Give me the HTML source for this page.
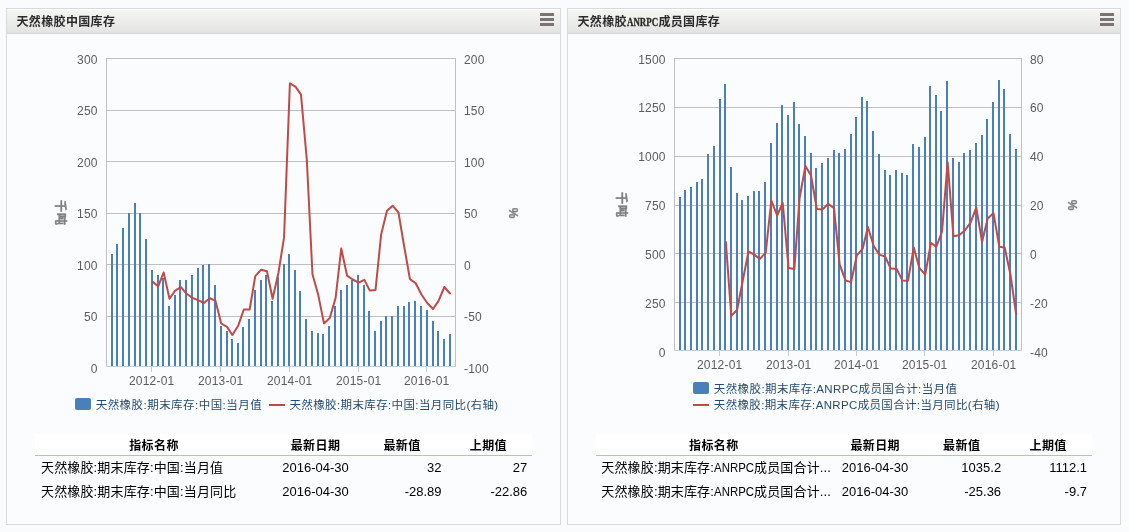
<!DOCTYPE html>
<html lang="zh-CN">
<head>
<meta charset="utf-8">
<title>天然橡胶库存</title>
<style>
html,body{margin:0;padding:0;}
body{width:1129px;height:532px;overflow:hidden;background:#fafbfd;position:relative;font-family:"Liberation Sans","Noto Sans CJK SC",sans-serif;}
.panel{position:absolute;top:8px;height:515px;width:553px;border:1px solid #d8d9da;background:#fbfcfe;}
.hd{position:absolute;left:0;top:0;right:0;height:24px;border-bottom:1px solid #d5d6d5;background:linear-gradient(#f6f6f2,#e3e3e3);box-shadow:inset 0 1px 0 #fff;}
.hd .tt{position:absolute;left:9.5px;top:6px;font-size:12px;line-height:14px;font-weight:bold;color:#2b2b2b;white-space:nowrap;letter-spacing:0.35px;}
.hd .mn{position:absolute;right:6px;top:4px;width:14px;height:13px;background:linear-gradient(#7b7272 0 3px,transparent 3px 5px,#7b7272 5px 8px,transparent 8px 10px,#7b7272 10px 13px);}
.nx{display:inline-block;position:static !important;white-space:nowrap;vertical-align:baseline;letter-spacing:0;}
.nx>span{display:inline-block;position:static !important;transform-origin:0 50%;font-family:"Liberation Serif",serif;-webkit-text-stroke:0.35px #2b2b2b;}
.t .nx>span{font-family:"Liberation Sans",sans-serif;-webkit-text-stroke:0;}
svg{position:absolute;left:0;top:0;overflow:visible;}
svg text{font-family:"Liberation Sans","Noto Sans CJK SC",sans-serif;}
.t{position:absolute;top:425px;height:70px;font-size:13px;color:#000;}
.t span{position:absolute;top:0;white-space:nowrap;box-sizing:border-box;}
.t .h{position:absolute;left:0;top:0;width:100%;height:21px;background:#fff;border-bottom:1px solid #a4c2ea;font-weight:bold;font-size:12px;letter-spacing:0.4px;line-height:17px;text-align:center;}
.t .h span{top:4px}
.t .r{position:absolute;left:0;width:100%;height:24px;line-height:24px;}
.t .r1{top:22px} .t .r2{top:46px}
</style>
</head>
<body>
<div class="panel" style="left:6px">
<div class="hd"><div class="tt">天然橡胶中国库存</div><div class="mn"></div></div>
<svg width="553" height="515" viewBox="7 9 553 515">
<rect x="106" y="58" width="350" height="1" fill="#c0c0c0"/>
<rect x="106" y="110" width="350" height="1" fill="#c0c0c0"/>
<rect x="106" y="161" width="350" height="1" fill="#c0c0c0"/>
<rect x="106" y="213" width="350" height="1" fill="#c0c0c0"/>
<rect x="106" y="264" width="350" height="1" fill="#c0c0c0"/>
<rect x="106" y="316" width="350" height="1" fill="#c0c0c0"/>
<rect x="111" y="254" width="2" height="112" fill="#4b7fbc"/>
<rect x="116" y="244" width="2" height="122" fill="#4b7fbc"/>
<rect x="122" y="228" width="2" height="138" fill="#4b7fbc"/>
<rect x="128" y="213" width="2" height="153" fill="#4b7fbc"/>
<rect x="134" y="203" width="2" height="163" fill="#4b7fbc"/>
<rect x="139" y="213" width="2" height="153" fill="#4b7fbc"/>
<rect x="145" y="239" width="2" height="127" fill="#4b7fbc"/>
<rect x="151" y="270" width="2" height="96" fill="#4b7fbc"/>
<rect x="157" y="275" width="2" height="91" fill="#4b7fbc"/>
<rect x="162" y="278" width="2" height="88" fill="#4b7fbc"/>
<rect x="168" y="306" width="2" height="60" fill="#4b7fbc"/>
<rect x="174" y="295" width="2" height="71" fill="#4b7fbc"/>
<rect x="179" y="280" width="2" height="86" fill="#4b7fbc"/>
<rect x="185" y="280" width="2" height="86" fill="#4b7fbc"/>
<rect x="191" y="275" width="2" height="91" fill="#4b7fbc"/>
<rect x="197" y="268" width="2" height="98" fill="#4b7fbc"/>
<rect x="202" y="265" width="2" height="101" fill="#4b7fbc"/>
<rect x="208" y="264" width="2" height="102" fill="#4b7fbc"/>
<rect x="214" y="285" width="2" height="81" fill="#4b7fbc"/>
<rect x="220" y="326" width="2" height="40" fill="#4b7fbc"/>
<rect x="226" y="331" width="2" height="35" fill="#4b7fbc"/>
<rect x="231" y="339" width="2" height="27" fill="#4b7fbc"/>
<rect x="237" y="343" width="2" height="23" fill="#4b7fbc"/>
<rect x="242" y="327" width="2" height="39" fill="#4b7fbc"/>
<rect x="248" y="319" width="2" height="47" fill="#4b7fbc"/>
<rect x="254" y="290" width="2" height="76" fill="#4b7fbc"/>
<rect x="260" y="280" width="2" height="86" fill="#4b7fbc"/>
<rect x="265" y="275" width="2" height="91" fill="#4b7fbc"/>
<rect x="271" y="301" width="2" height="65" fill="#4b7fbc"/>
<rect x="277" y="277" width="2" height="89" fill="#4b7fbc"/>
<rect x="283" y="264" width="2" height="102" fill="#4b7fbc"/>
<rect x="288" y="254" width="2" height="112" fill="#4b7fbc"/>
<rect x="294" y="270" width="2" height="96" fill="#4b7fbc"/>
<rect x="299" y="291" width="2" height="75" fill="#4b7fbc"/>
<rect x="305" y="319" width="2" height="47" fill="#4b7fbc"/>
<rect x="311" y="331" width="2" height="35" fill="#4b7fbc"/>
<rect x="317" y="333" width="2" height="33" fill="#4b7fbc"/>
<rect x="322" y="334" width="2" height="32" fill="#4b7fbc"/>
<rect x="328" y="326" width="2" height="40" fill="#4b7fbc"/>
<rect x="334" y="306" width="2" height="60" fill="#4b7fbc"/>
<rect x="340" y="290" width="2" height="76" fill="#4b7fbc"/>
<rect x="346" y="285" width="2" height="81" fill="#4b7fbc"/>
<rect x="351" y="280" width="2" height="86" fill="#4b7fbc"/>
<rect x="357" y="275" width="2" height="91" fill="#4b7fbc"/>
<rect x="363" y="285" width="2" height="81" fill="#4b7fbc"/>
<rect x="368" y="311" width="2" height="55" fill="#4b7fbc"/>
<rect x="374" y="331" width="2" height="35" fill="#4b7fbc"/>
<rect x="380" y="321" width="2" height="45" fill="#4b7fbc"/>
<rect x="385" y="316" width="2" height="50" fill="#4b7fbc"/>
<rect x="391" y="316" width="2" height="50" fill="#4b7fbc"/>
<rect x="397" y="306" width="2" height="60" fill="#4b7fbc"/>
<rect x="403" y="306" width="2" height="60" fill="#4b7fbc"/>
<rect x="408" y="302" width="2" height="64" fill="#4b7fbc"/>
<rect x="414" y="301" width="2" height="65" fill="#4b7fbc"/>
<rect x="420" y="306" width="2" height="60" fill="#4b7fbc"/>
<rect x="426" y="310" width="2" height="56" fill="#4b7fbc"/>
<rect x="432" y="321" width="2" height="45" fill="#4b7fbc"/>
<rect x="437" y="331" width="2" height="35" fill="#4b7fbc"/>
<rect x="443" y="339" width="2" height="27" fill="#4b7fbc"/>
<rect x="449" y="334" width="2" height="32" fill="#4b7fbc"/>
<rect x="106" y="58" width="1" height="308" fill="#c0c0c0"/>
<rect x="455" y="58" width="1" height="308" fill="#c0c0c0"/>
<rect x="106" y="366" width="350" height="1" fill="#c0d0e0"/>
<rect x="151" y="367" width="1" height="5" fill="#c0d0e0"/>
<rect x="220" y="367" width="1" height="5" fill="#c0d0e0"/>
<rect x="289" y="367" width="1" height="5" fill="#c0d0e0"/>
<rect x="358" y="367" width="1" height="5" fill="#c0d0e0"/>
<rect x="426" y="367" width="1" height="5" fill="#c0d0e0"/>
<polyline points="152.35,281.6 158.19,286.3 163.64,272.5 169.48,298.7 175.12,290.6 180.95,287.2 186.60,293.8 192.43,297.9 198.26,300.2 203.91,303.0 209.74,298.3 215.38,300.6 221.22,323.5 227.05,326.9 232.32,335.0 238.15,325.8 243.80,309.5 249.63,309.5 255.27,276.2 261.10,269.7 266.94,271.2 272.58,298.7 278.41,273.0 284.06,237.4 289.89,83.3 295.72,86.9 300.99,94.6 306.83,160.0 312.47,274.2 318.30,295.1 323.95,323.4 329.78,318.0 335.61,297.9 341.26,248.5 347.09,275.7 352.73,279.5 358.57,282.7 364.40,279.9 369.67,290.4 375.50,290.0 381.14,234.5 386.98,210.8 392.62,205.7 398.45,212.5 404.29,247.0 409.93,279.1 415.76,283.3 421.41,294.5 427.24,303.0 433.07,309.0 438.53,300.9 444.36,287.0 450.01,293.5" fill="none" stroke="#be4b48" stroke-width="2" stroke-linejoin="round" stroke-linecap="round"/>
<g font-size="12" fill="#5c5c5c" letter-spacing="0.2">
<text x="97.7" y="64" text-anchor="end">300</text>
<text x="97.7" y="115" text-anchor="end">250</text>
<text x="97.7" y="167" text-anchor="end">200</text>
<text x="97.7" y="218" text-anchor="end">150</text>
<text x="97.7" y="270" text-anchor="end">100</text>
<text x="97.7" y="321" text-anchor="end">50</text>
<text x="97.7" y="373" text-anchor="end">0</text>
<text x="464" y="64">200</text>
<text x="464" y="115">150</text>
<text x="464" y="167">100</text>
<text x="464" y="218">50</text>
<text x="464" y="270">0</text>
<text x="464" y="321">-50</text>
<text x="464" y="373">-100</text>
<text x="151.7" y="385" text-anchor="middle">2012-01</text>
<text x="220.7" y="385" text-anchor="middle">2013-01</text>
<text x="289.7" y="385" text-anchor="middle">2014-01</text>
<text x="358.7" y="385" text-anchor="middle">2015-01</text>
<text x="426.7" y="385" text-anchor="middle">2016-01</text>
</g>
<text x="60" y="213.0" font-size="12" font-weight="bold" fill="#808080" stroke="#808080" stroke-width="0.35" text-anchor="middle" transform="rotate(90 60 213.0)" dy="4" letter-spacing="1">千吨</text>
<text x="513" y="213.0" font-size="12" font-weight="bold" fill="#808080" stroke="#808080" stroke-width="0.3" text-anchor="middle" transform="rotate(90 513 213.0)" dy="4">%</text>
<rect x="75" y="398" width="16" height="12" rx="2" ry="2" fill="#4b7fbc"/>
<text x="95.7" y="409" font-size="11.5" fill="#274b6d" textLength="166" lengthAdjust="spacing">天然橡胶:期末库存:中国:当月值</text>
<rect x="269" y="404" width="16" height="2" fill="#be4b48"/>
<text x="289.5" y="409" font-size="11.5" fill="#274b6d" textLength="208.7" lengthAdjust="spacing">天然橡胶:期末库存:中国:当月同比(右轴)</text>
</svg>
<div class="t" style="left:28px;width:497px">
<div class="h"><span style="left:0px;width:238px;margin-left:0px">指标名称</span><span style="left:238px;width:85px;margin-left:0px">最新日期</span><span style="left:323px;width:88px;margin-left:0px">最新值</span><span style="left:411px;width:86px;margin-left:-0.6px">上期值</span></div>
<div class="r r1"><span style="left:0px;width:238px;text-align:left;padding-left:6px;letter-spacing:0.15px">天然橡胶:期末库存:中国:当月值</span><span style="left:238px;width:85px;text-align:center">2016-04-30</span><span style="left:323px;width:88px;text-align:right;padding-right:4.5px">32</span><span style="left:411px;width:86px;text-align:right;padding-right:4.7px">27</span></div>
<div class="r r2"><span style="left:0px;width:238px;text-align:left;padding-left:6px;letter-spacing:0.15px">天然橡胶:期末库存:中国:当月同比</span><span style="left:238px;width:85px;text-align:center">2016-04-30</span><span style="left:323px;width:88px;text-align:right;padding-right:4.5px">-28.89</span><span style="left:411px;width:86px;text-align:right;padding-right:4.7px">-22.86</span></div>
</div>
</div>
<div class="panel" style="left:567px;width:552px">
<div class="hd"><div class="tt">天然橡胶<span class="nx" style="width:31.5px"><span style="transform:scaleX(.74)">ANRPC</span></span>成员国库存</div><div class="mn"></div></div>
<svg width="552" height="515" viewBox="568 9 552 515">
<rect x="674" y="58" width="348" height="1" fill="#c0c0c0"/>
<rect x="674" y="107" width="348" height="1" fill="#c0c0c0"/>
<rect x="674" y="156" width="348" height="1" fill="#c0c0c0"/>
<rect x="674" y="205" width="348" height="1" fill="#c0c0c0"/>
<rect x="674" y="253" width="348" height="1" fill="#c0c0c0"/>
<rect x="674" y="302" width="348" height="1" fill="#c0c0c0"/>
<rect x="679" y="197" width="2" height="153" fill="#4b7fbc"/>
<rect x="684" y="190" width="2" height="160" fill="#4b7fbc"/>
<rect x="690" y="187" width="2" height="163" fill="#4b7fbc"/>
<rect x="696" y="182" width="2" height="168" fill="#4b7fbc"/>
<rect x="701" y="179" width="2" height="171" fill="#4b7fbc"/>
<rect x="707" y="154" width="2" height="196" fill="#4b7fbc"/>
<rect x="713" y="146" width="2" height="204" fill="#4b7fbc"/>
<rect x="719" y="99" width="2" height="251" fill="#4b7fbc"/>
<rect x="724" y="84" width="2" height="266" fill="#4b7fbc"/>
<rect x="730" y="167" width="2" height="183" fill="#4b7fbc"/>
<rect x="736" y="193" width="2" height="157" fill="#4b7fbc"/>
<rect x="741" y="200" width="2" height="150" fill="#4b7fbc"/>
<rect x="747" y="196" width="2" height="154" fill="#4b7fbc"/>
<rect x="753" y="191" width="2" height="159" fill="#4b7fbc"/>
<rect x="758" y="191" width="2" height="159" fill="#4b7fbc"/>
<rect x="764" y="182" width="2" height="168" fill="#4b7fbc"/>
<rect x="770" y="143" width="2" height="207" fill="#4b7fbc"/>
<rect x="776" y="123" width="2" height="227" fill="#4b7fbc"/>
<rect x="781" y="105" width="2" height="245" fill="#4b7fbc"/>
<rect x="787" y="115" width="2" height="235" fill="#4b7fbc"/>
<rect x="793" y="102" width="2" height="248" fill="#4b7fbc"/>
<rect x="798" y="124" width="2" height="226" fill="#4b7fbc"/>
<rect x="804" y="136" width="2" height="214" fill="#4b7fbc"/>
<rect x="810" y="153" width="2" height="197" fill="#4b7fbc"/>
<rect x="815" y="168" width="2" height="182" fill="#4b7fbc"/>
<rect x="821" y="163" width="2" height="187" fill="#4b7fbc"/>
<rect x="827" y="158" width="2" height="192" fill="#4b7fbc"/>
<rect x="833" y="150" width="2" height="200" fill="#4b7fbc"/>
<rect x="838" y="153" width="2" height="197" fill="#4b7fbc"/>
<rect x="844" y="149" width="2" height="201" fill="#4b7fbc"/>
<rect x="850" y="134" width="2" height="216" fill="#4b7fbc"/>
<rect x="855" y="117" width="2" height="233" fill="#4b7fbc"/>
<rect x="861" y="97" width="2" height="253" fill="#4b7fbc"/>
<rect x="866" y="101" width="2" height="249" fill="#4b7fbc"/>
<rect x="872" y="131" width="2" height="219" fill="#4b7fbc"/>
<rect x="878" y="154" width="2" height="196" fill="#4b7fbc"/>
<rect x="884" y="170" width="2" height="180" fill="#4b7fbc"/>
<rect x="889" y="175" width="2" height="175" fill="#4b7fbc"/>
<rect x="895" y="170" width="2" height="180" fill="#4b7fbc"/>
<rect x="901" y="173" width="2" height="177" fill="#4b7fbc"/>
<rect x="906" y="175" width="2" height="175" fill="#4b7fbc"/>
<rect x="912" y="144" width="2" height="206" fill="#4b7fbc"/>
<rect x="918" y="147" width="2" height="203" fill="#4b7fbc"/>
<rect x="924" y="137" width="2" height="213" fill="#4b7fbc"/>
<rect x="929" y="86" width="2" height="264" fill="#4b7fbc"/>
<rect x="935" y="95" width="2" height="255" fill="#4b7fbc"/>
<rect x="940" y="111" width="2" height="239" fill="#4b7fbc"/>
<rect x="946" y="81" width="2" height="269" fill="#4b7fbc"/>
<rect x="952" y="158" width="2" height="192" fill="#4b7fbc"/>
<rect x="958" y="162" width="2" height="188" fill="#4b7fbc"/>
<rect x="963" y="153" width="2" height="197" fill="#4b7fbc"/>
<rect x="969" y="150" width="2" height="200" fill="#4b7fbc"/>
<rect x="975" y="143" width="2" height="207" fill="#4b7fbc"/>
<rect x="981" y="135" width="2" height="215" fill="#4b7fbc"/>
<rect x="986" y="119" width="2" height="231" fill="#4b7fbc"/>
<rect x="992" y="102" width="2" height="248" fill="#4b7fbc"/>
<rect x="998" y="80" width="2" height="270" fill="#4b7fbc"/>
<rect x="1003" y="89" width="2" height="261" fill="#4b7fbc"/>
<rect x="1009" y="134" width="2" height="216" fill="#4b7fbc"/>
<rect x="1015" y="149" width="2" height="201" fill="#4b7fbc"/>
<rect x="674" y="58" width="1" height="292" fill="#c0c0c0"/>
<rect x="1021" y="58" width="1" height="292" fill="#c0c0c0"/>
<rect x="674" y="350" width="348" height="1" fill="#c0d0e0"/>
<rect x="719" y="351" width="1" height="5" fill="#c0d0e0"/>
<rect x="788" y="351" width="1" height="5" fill="#c0d0e0"/>
<rect x="856" y="351" width="1" height="5" fill="#c0d0e0"/>
<rect x="924" y="351" width="1" height="5" fill="#c0d0e0"/>
<rect x="993" y="351" width="1" height="5" fill="#c0d0e0"/>
<polyline points="725.85,242.1 731.28,315.9 737.08,310.0 742.70,281.0 748.50,251.3 754.11,254.6 759.91,258.9 765.71,252.6 771.33,200.5 777.13,215.5 782.75,203.0 788.55,268.0 794.35,269.0 799.59,198.0 805.39,166.0 811.00,175.5 816.81,209.0 822.42,209.5 828.22,203.8 834.02,208.3 839.64,264.3 845.44,280.4 851.06,282.1 856.86,255.3 862.66,248.7 867.90,227.0 873.70,246.0 879.31,254.6 885.12,256.6 890.73,268.5 896.53,268.8 902.33,280.4 907.95,280.8 913.75,247.6 919.36,267.9 925.17,274.7 930.97,242.8 936.21,247.0 942.01,231.6 947.62,162.4 953.43,236.2 959.04,235.3 964.84,230.5 970.64,222.4 976.26,207.7 982.06,241.8 987.67,218.4 993.48,213.2 999.28,246.7 1004.71,247.6 1010.51,275.0 1016.12,314.3" fill="none" stroke="#be4b48" stroke-width="2" stroke-linejoin="round" stroke-linecap="round"/>
<g font-size="12" fill="#5c5c5c" letter-spacing="0.2">
<text x="665.7" y="64" text-anchor="end">1500</text>
<text x="665.7" y="112" text-anchor="end">1250</text>
<text x="665.7" y="161" text-anchor="end">1000</text>
<text x="665.7" y="210" text-anchor="end">750</text>
<text x="665.7" y="259" text-anchor="end">500</text>
<text x="665.7" y="308" text-anchor="end">250</text>
<text x="665.7" y="357" text-anchor="end">0</text>
<text x="1030" y="64">80</text>
<text x="1030" y="112">60</text>
<text x="1030" y="161">40</text>
<text x="1030" y="210">20</text>
<text x="1030" y="259">0</text>
<text x="1030" y="308">-20</text>
<text x="1030" y="357">-40</text>
<text x="719.7" y="369" text-anchor="middle">2012-01</text>
<text x="788.7" y="369" text-anchor="middle">2013-01</text>
<text x="856.7" y="369" text-anchor="middle">2014-01</text>
<text x="924.7" y="369" text-anchor="middle">2015-01</text>
<text x="993.7" y="369" text-anchor="middle">2016-01</text>
</g>
<text x="621" y="205.0" font-size="12" font-weight="bold" fill="#808080" stroke="#808080" stroke-width="0.35" text-anchor="middle" transform="rotate(90 621 205.0)" dy="4" letter-spacing="1">千吨</text>
<text x="1072" y="205.0" font-size="12" font-weight="bold" fill="#808080" stroke="#808080" stroke-width="0.3" text-anchor="middle" transform="rotate(90 1072 205.0)" dy="4">%</text>
<rect x="693" y="382" width="16" height="12" rx="2" ry="2" fill="#4b7fbc"/>
<text x="713.8" y="393" font-size="11.5" fill="#274b6d" textLength="243.2" lengthAdjust="spacing">天然橡胶:期末库存:ANRPC成员国合计:当月值</text>
<rect x="693" y="404" width="16" height="2" fill="#be4b48"/>
<text x="713.8" y="409" font-size="11.5" fill="#274b6d" textLength="285.7" lengthAdjust="spacing">天然橡胶:期末库存:ANRPC成员国合计:当月同比(右轴)</text>
</svg>
<div class="t" style="left:28px;width:496px">
<div class="h"><span style="left:0px;width:236px;margin-left:-0.2px">指标名称</span><span style="left:236px;width:86px;margin-left:0.2px">最新日期</span><span style="left:322px;width:88px;margin-left:-0.3px">最新值</span><span style="left:410px;width:86px;margin-left:-0.9px">上期值</span></div>
<div class="r r1"><span style="left:0px;width:236px;text-align:left;padding-left:5.3px;letter-spacing:0.15px">天然橡胶:期末库存:<span class="nx" style="width:40px"><span style="transform:scaleX(.88)">ANRPC</span></span>成员国合计...</span><span style="left:236px;width:86px;text-align:center">2016-04-30</span><span style="left:322px;width:88px;text-align:right;padding-right:4.9px">1035.2</span><span style="left:410px;width:86px;text-align:right;padding-right:5.0px">1112.1</span></div>
<div class="r r2"><span style="left:0px;width:236px;text-align:left;padding-left:5.3px;letter-spacing:0.15px">天然橡胶:期末库存:<span class="nx" style="width:40px"><span style="transform:scaleX(.88)">ANRPC</span></span>成员国合计...</span><span style="left:236px;width:86px;text-align:center">2016-04-30</span><span style="left:322px;width:88px;text-align:right;padding-right:4.9px">-25.36</span><span style="left:410px;width:86px;text-align:right;padding-right:5.0px">-9.7</span></div>
</div>
</div>
</body>
</html>
